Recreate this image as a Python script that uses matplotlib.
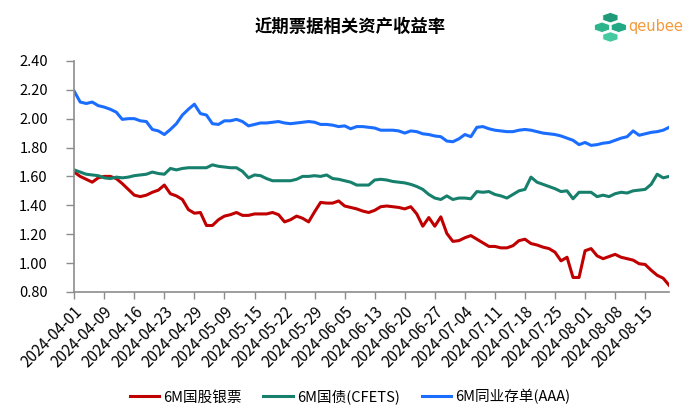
import matplotlib.pyplot as plt
import matplotlib.patches as patches
import numpy as np

plt.rcParams['font.family'] = ['Noto Sans CJK SC', 'DejaVu Sans']

dates = [
    "2024-04-01", "2024-04-02", "2024-04-03", "2024-04-07", "2024-04-08",
    "2024-04-09", "2024-04-10", "2024-04-11", "2024-04-12", "2024-04-15",
    "2024-04-16", "2024-04-17", "2024-04-18", "2024-04-19", "2024-04-22",
    "2024-04-23", "2024-04-24", "2024-04-25", "2024-04-26", "2024-04-28",
    "2024-04-29", "2024-04-30", "2024-05-06", "2024-05-07", "2024-05-08",
    "2024-05-09", "2024-05-10", "2024-05-11", "2024-05-13", "2024-05-14",
    "2024-05-15", "2024-05-16", "2024-05-17", "2024-05-20", "2024-05-21",
    "2024-05-22", "2024-05-23", "2024-05-24", "2024-05-27", "2024-05-28",
    "2024-05-29", "2024-05-30", "2024-05-31", "2024-06-03", "2024-06-04",
    "2024-06-05", "2024-06-06", "2024-06-07", "2024-06-11", "2024-06-12",
    "2024-06-13", "2024-06-14", "2024-06-17", "2024-06-18", "2024-06-19",
    "2024-06-20", "2024-06-21", "2024-06-24", "2024-06-25", "2024-06-26",
    "2024-06-27", "2024-06-28", "2024-07-01", "2024-07-02", "2024-07-03",
    "2024-07-04", "2024-07-05", "2024-07-08", "2024-07-09", "2024-07-10",
    "2024-07-11", "2024-07-12", "2024-07-15", "2024-07-16", "2024-07-17",
    "2024-07-18", "2024-07-19", "2024-07-22", "2024-07-23", "2024-07-24",
    "2024-07-25", "2024-07-26", "2024-07-29", "2024-07-30", "2024-07-31",
    "2024-08-01", "2024-08-02", "2024-08-05", "2024-08-06", "2024-08-07",
    "2024-08-08", "2024-08-09", "2024-08-12", "2024-08-13", "2024-08-14",
    "2024-08-15", "2024-08-16", "2024-08-19", "2024-08-20", "2024-08-21",
]

bank_bill = [
    1.63, 1.60, 1.58, 1.56, 1.59, 1.60, 1.60, 1.585, 1.55, 1.51,
    1.47, 1.46, 1.47, 1.49, 1.505, 1.54, 1.48, 1.465, 1.44, 1.37,
    1.345, 1.35, 1.26, 1.26, 1.30, 1.325, 1.335, 1.35, 1.33, 1.33,
    1.34, 1.34, 1.34, 1.35, 1.335, 1.285, 1.30, 1.325, 1.31, 1.285,
    1.355, 1.42, 1.415, 1.415, 1.43, 1.395, 1.385, 1.375, 1.36, 1.35,
    1.365, 1.39, 1.395, 1.39, 1.385, 1.375, 1.39, 1.34, 1.255, 1.315,
    1.255, 1.32, 1.205, 1.15, 1.155, 1.175, 1.19, 1.165, 1.14, 1.115,
    1.115, 1.105, 1.105, 1.12, 1.155, 1.165, 1.135, 1.125, 1.11, 1.10,
    1.075, 1.015, 1.04, 0.90, 0.90, 1.085, 1.10, 1.05, 1.03, 1.045,
    1.06, 1.04, 1.03, 1.02, 0.995, 0.99, 0.95, 0.915, 0.895, 0.845,
]

treasury = [
    1.645, 1.63, 1.615, 1.61, 1.605, 1.59, 1.585, 1.595, 1.59, 1.595,
    1.605, 1.61, 1.615, 1.63, 1.62, 1.615, 1.655, 1.645, 1.655, 1.66,
    1.66, 1.66, 1.66, 1.68, 1.67, 1.665, 1.66, 1.66, 1.635, 1.59,
    1.61, 1.605, 1.585, 1.57, 1.57, 1.57, 1.57, 1.58, 1.60, 1.60,
    1.605, 1.60, 1.61, 1.585, 1.58, 1.57, 1.56, 1.54, 1.54, 1.54,
    1.575, 1.58, 1.575, 1.565, 1.56, 1.555, 1.545, 1.53, 1.51, 1.475,
    1.45, 1.44, 1.465, 1.44, 1.45, 1.45, 1.445, 1.495, 1.49, 1.495,
    1.475, 1.465, 1.45, 1.475, 1.50, 1.51, 1.595, 1.56, 1.545, 1.53,
    1.515, 1.495, 1.50, 1.445, 1.49, 1.49, 1.49, 1.46, 1.47, 1.46,
    1.48, 1.49, 1.485, 1.50, 1.505, 1.51, 1.545, 1.615, 1.59, 1.60,
]

ncd_aaa = [
    2.19, 2.115, 2.105, 2.115, 2.09, 2.08, 2.065, 2.045, 1.995, 2.00,
    2.00, 1.985, 1.98, 1.925, 1.915, 1.89, 1.925, 1.965, 2.025, 2.065,
    2.10, 2.035, 2.025, 1.965, 1.96, 1.985, 1.985, 1.995, 1.98, 1.95,
    1.96, 1.97, 1.97, 1.975, 1.98, 1.97, 1.965, 1.97, 1.975, 1.98,
    1.975, 1.96, 1.96, 1.955, 1.945, 1.95, 1.93, 1.945, 1.945, 1.94,
    1.935, 1.92, 1.92, 1.92, 1.915, 1.90, 1.915, 1.91, 1.895, 1.89,
    1.88, 1.875, 1.845, 1.84, 1.86, 1.89, 1.875, 1.94, 1.945, 1.93,
    1.92, 1.915, 1.91, 1.91, 1.92, 1.925, 1.92, 1.91, 1.90, 1.895,
    1.89, 1.88, 1.865, 1.85, 1.82, 1.835, 1.815, 1.82, 1.83, 1.835,
    1.85, 1.865, 1.875, 1.915, 1.885, 1.895, 1.905, 1.91, 1.92, 1.94,
]

series_labels = ["6M国股银票", "6M国债(CFETS)", "6M同业存单(AAA)"]
series_colors = ["#c00000", "#17806d", "#1a6dff"]
y_ticks = [0.80, 1.00, 1.20, 1.40, 1.60, 1.80, 2.00, 2.20, 2.40]

fig = plt.figure(figsize=(7, 4.2), dpi=100)
ax = fig.add_axes([0.106, 0.305, 0.850, 0.550])

x = np.arange(len(dates))
for vals, lab, col in zip([bank_bill, treasury, ncd_aaa], series_labels, series_colors):
    ax.plot(x, vals, color=col, lw=2.2, label=lab, solid_joinstyle='round')

ax.set_xlim(0, len(dates) - 1)
ax.set_ylim(0.80, 2.40)
ax.set_yticks(y_ticks)
ax.set_yticklabels([f"{v:.2f}" for v in y_ticks], fontsize=10.5)
tick_idx = list(range(0, len(dates), 5))
ax.set_xticks(tick_idx)
ax.set_xticklabels([dates[i] for i in tick_idx], rotation=45, ha='right',
                   rotation_mode='anchor', fontsize=11)

for s in ['top', 'right']:
    ax.spines[s].set_visible(False)
for s in ['left', 'bottom']:
    ax.spines[s].set_color('#8c8c8c')
    ax.spines[s].set_linewidth(1.2)
ax.tick_params(axis='y', length=6, width=1, color='#8c8c8c', pad=13)
ax.tick_params(axis='x', length=5, width=1, color='#8c8c8c', pad=3)

fig.text(0.5, 0.935, "近期票据相关资产收益率", ha='center', va='center',
         fontsize=12.5, fontweight='bold')

handles, labels = ax.get_legend_handles_labels()
fig.legend(handles, labels, loc='center', bbox_to_anchor=(0.5, 0.055), ncol=3,
           frameon=False, fontsize=10.5, handlelength=2.0, columnspacing=1.5,
           handletextpad=0.3)

# logo: a few green cubes plus orange text
cube_c = ["#2cb58c", "#1f9a78", "#45c9a0", "#23a884"]
cube_xy = [(0.860, 0.935), (0.872, 0.958), (0.872, 0.912), (0.884, 0.935)]
for (cx, cy), fc in zip(cube_xy, cube_c):
    hexp = patches.RegularPolygon((cx, cy), numVertices=6, radius=0.0125,
                                  orientation=0, transform=fig.transFigure,
                                  facecolor=fc, edgecolor='white', lw=0.6)
    fig.patches.append(hexp)
fig.text(0.897, 0.938, "qeubee", ha='left', va='center', fontsize=10.5,
         color='#f39a3a', family=['DejaVu Sans'])

fig.savefig("out.png", dpi=100)
